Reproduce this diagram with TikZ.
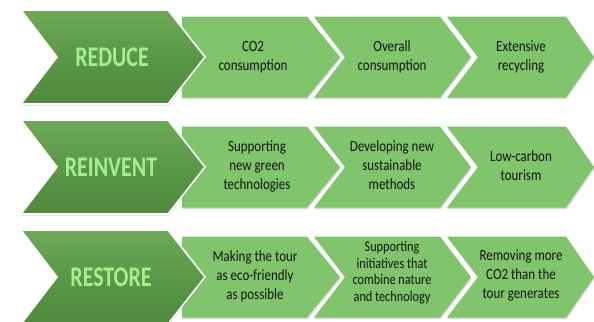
\documentclass[tikz,border=0pt]{standalone}
\usepackage{fontspec}
\usepackage{graphicx}
\setmainfont{Carlito}
\usetikzlibrary{shadows}
\definecolor{bigtop}{HTML}{6CAA58}
\definecolor{bigmid}{HTML}{5A9747}
\definecolor{bigbot}{HTML}{4F8A3E}
\definecolor{smallfill}{HTML}{80C46C}
\definecolor{labelgreen}{HTML}{A6EF8D}
\definecolor{txt}{HTML}{141414}
\tikzset{
  bigstyle/.style={top color=bigtop, bottom color=bigbot, middle color=bigmid, draw=white, line width=1.6pt,
    drop shadow={shadow xshift=0.6pt, shadow yshift=-1.6pt, opacity=0.3}},
  smallstyle/.style={fill=smallfill,
    drop shadow={shadow xshift=0.6pt, shadow yshift=-1.6pt, opacity=0.3}},
  biglabel/.style={font=\fontsize{22}{26}\selectfont\bfseries, text=labelgreen, inner sep=0pt},
  smalllabel/.style={font=\fontsize{13}{15.8}\selectfont, text=txt, inner sep=0pt},
  tinylabel/.style={font=\fontsize{12.3}{13.9}\selectfont, text=txt, inner sep=0pt}
}
\newcommand{\stxt}[1]{\scalebox{1}[1.2]{\begin{tabular}{@{}c@{}}#1\end{tabular}}}
% big chevron: #1 = centre y
\newcommand{\bigchev}[1]{%
  \shade[bigstyle] (21,{#1-47}) -- (168,{#1-47}) -- (205,#1) -- (168,{#1+47}) -- (21,{#1+47}) -- (57,#1) -- cycle;}
% small chevron: #1 left x, #2 notch depth, #3 top-right x, #4 tip depth, #5 centre y
\newcommand{\smallchev}[5]{%
  \fill[smallstyle] (#1,{#5-40.5}) -- (#3,{#5-40.5}) -- ({#3+#4},#5) -- (#3,{#5+40.5}) -- (#1,{#5+40.5}) -- ({#1+#2},#5) -- cycle;}
\begin{document}
\begin{tikzpicture}[x=1bp,y=-1bp]
\useasboundingbox (0,0) rectangle (594,321);
% row 1
\smallchev{447}{31}{566}{28}{57}
\smallchev{314}{31}{440}{31}{57}
\smallchev{182}{0}{307}{33}{57}
\bigchev{57}
\node[biglabel] (r1) at (112,57) {\scalebox{1}[1.3]{REDUCE}};
\node[smalllabel] (r1a) at (253,57) {\stxt{CO2\\consumption}};
\node[smalllabel] (r1b) at (392,57) {\stxt{Overall\\consumption}};
\node[smalllabel] (r1c) at (521,57) {\stxt{Extensive\\recycling}};
% row 2
\smallchev{447}{31}{566}{28}{167}
\smallchev{314}{31}{440}{31}{167}
\smallchev{182}{0}{307}{33}{167}
\bigchev{167}
\node[biglabel] (r2) at (111,167) {\scalebox{1}[1.3]{REINVENT}};
\node[smalllabel] (r2a) at (257,167) {\stxt{Supporting\\new green\\technologies}};
\node[smalllabel] (r2b) at (392,167) {\stxt{Developing new\\sustainable\\methods}};
\node[smalllabel] (r2c) at (521,167) {\stxt{Low-carbon\\tourism}};
% row 3
\smallchev{447}{31}{566}{28}{277}
\smallchev{314}{31}{440}{31}{277}
\smallchev{182}{0}{307}{33}{277}
\bigchev{277}
\node[biglabel] (r3) at (111,277) {\scalebox{1}[1.3]{RESTORE}};
\node[smalllabel] (r3a) at (255,277) {\stxt{Making the tour\\as eco-friendly\\as possible}};
\node[tinylabel] (r3b) at (392,273) {\stxt{Supporting\\initiatives that\\combine nature\\and technology}};
\node[smalllabel] (r3c) at (521,276) {\stxt{Removing more\\CO2 than the\\tour generates}};
\end{tikzpicture}
\end{document}
